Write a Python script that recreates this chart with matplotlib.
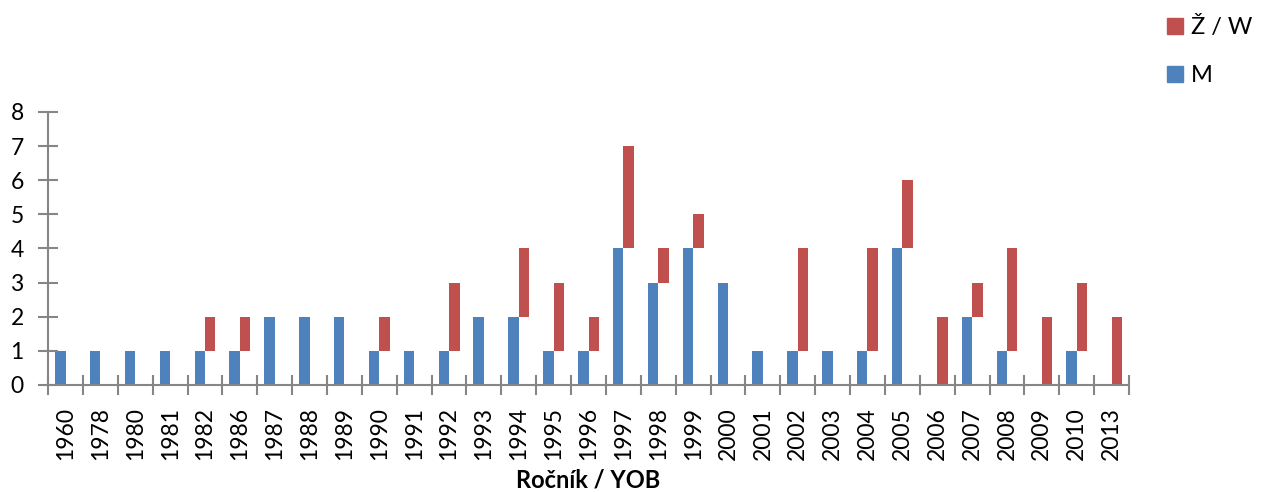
import matplotlib.pyplot as plt
from matplotlib.patches import Patch
import numpy as np

# year of birth categories
years = ['1960', '1978', '1980', '1981', '1982', '1986', '1987', '1988', '1989', '1990',
         '1991', '1992', '1993', '1994', '1995', '1996', '1997', '1998', '1999', '2000',
         '2001', '2002', '2003', '2004', '2005', '2006', '2007', '2008', '2009', '2010', '2013']
men =   [1, 1, 1, 1, 1, 1, 2, 2, 2, 1, 1, 1, 2, 2, 1, 1, 4, 3, 4, 3, 1, 1, 1, 1, 4, 0, 2, 1, 0, 1, 0]
women = [0, 0, 0, 0, 1, 1, 0, 0, 0, 1, 0, 2, 0, 2, 2, 1, 3, 1, 1, 0, 0, 3, 0, 3, 2, 2, 1, 3, 2, 2, 2]

blue = '#4F81BD'
red = '#C0504D'
grey = '#868686'

plt.rcParams['font.family'] = ['Lato', 'DejaVu Sans']

fig = plt.figure(figsize=(12.65, 4.92), dpi=100)
ax = fig.add_axes([0.038, 0.2175, 0.8545, 0.555])

x = np.arange(len(years))
w = 0.3
# M bar on the left, W bar to its right starting at the top of M
ax.bar(x - w / 2, men, width=w, color=blue, linewidth=0)
ax.bar(x + w / 2, women, width=w, bottom=men, color=red, linewidth=0)

ax.set_xlim(-0.5, len(years) - 0.5)
ax.set_ylim(0, 8)
ax.set_yticks(range(0, 9))
ax.set_xticks(x)
ax.set_xticklabels(years, rotation=90)
ax.set_xticks(np.arange(-0.5, len(years)), minor=True)

ax.tick_params(axis='x', which='major', length=0, labelsize=16.5, pad=16)
ax.tick_params(axis='x', which='minor', length=15, direction='inout', color=grey, width=1.5)
ax.tick_params(axis='y', length=15, direction='inout', color=grey, width=1.5, labelsize=16.5, pad=10)

for s in ['top', 'right']:
    ax.spines[s].set_visible(False)
for s in ['left', 'bottom']:
    ax.spines[s].set_color(grey)
    ax.spines[s].set_linewidth(1.5)

ax.set_xlabel('Ročník / YOB', fontsize=17, fontweight='bold', labelpad=6)

handles = [Patch(color=red, label='Ž / W'), Patch(color=blue, label='M')]
fig.legend(handles=handles, loc='upper left', bbox_to_anchor=(0.906, 1.01), frameon=False,
           fontsize=17, handlelength=0.65, handleheight=0.65, handletextpad=0.35, labelspacing=1.15)

fig.savefig('out.png', dpi=100)
